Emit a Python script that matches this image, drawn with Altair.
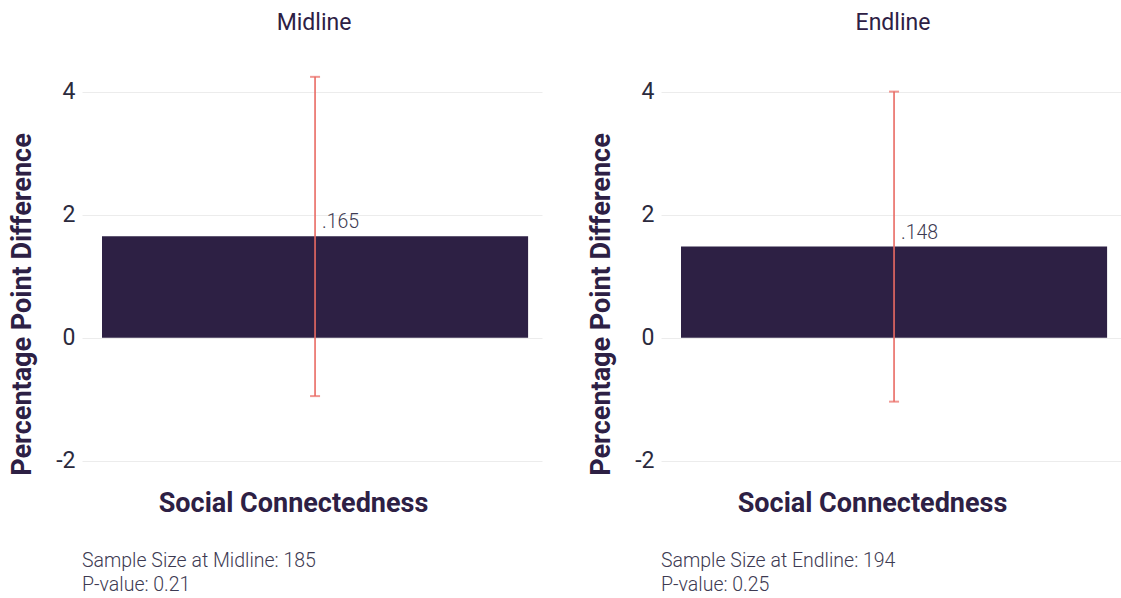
import altair as alt
import pandas as pd

# Survey rounds shown side by side
rounds = ["Midline", "Endline"]
outcome = "Social Connectedness"
# Point estimates (share) and their 95% confidence bounds in percentage points
estimates = [0.165, 0.148]
ci_low = [-0.95, -1.04]
ci_high = [4.24, 4.00]
sample_sizes = [185, 194]
p_values = ["0.21", "0.25"]

y_ticks = [-2, 0, 2, 4]

FONT = "Roboto"
INK = "#2d2044"
BAR = "#2d2044"
ERR = "#e96a63"
PLOT_W = 460
PLOT_H = 406


def panel(i):
    df = pd.DataFrame(
        {
            "outcome": [outcome],
            "estimate": [estimates[i]],
            "low": [ci_low[i]],
            "high": [ci_high[i]],
            "footer": [
                f"Sample Size at {rounds[i]}: {sample_sizes[i]}\nP-value: {p_values[i]}"
            ],
        }
    )
    base = alt.Chart(df).transform_calculate(
        pp="datum.estimate * 10",
        label="slice(format(datum.estimate, '.3f'), 1)",
    )

    x = alt.X(
        "outcome:N",
        title=outcome,
        scale=alt.Scale(paddingInner=0.07, paddingOuter=0.037, align=0.59),
        axis=alt.Axis(
            labels=False,
            ticks=False,
            domain=False,
            grid=False,
            titleFont=FONT,
            titleFontSize=27,
            titleFontWeight="bold",
            titleColor=INK,
            titlePadding=17,
            titleX=211,
        ),
    )
    y_scale = alt.Scale(domain=[-2.2, 4.4], nice=False, zero=False)
    y_axis = alt.Axis(
        values=y_ticks,
        labelExpr="toString(datum.value)",
        title="Percentage Point Difference",
        domain=False,
        ticks=False,
        grid=True,
        gridColor="#ececec",
        gridWidth=1,
        labelFont=FONT,
        labelFontSize=23,
        labelColor="#2b2a3d",
        labelPadding=7,
        titleFont=FONT,
        titleFontSize=27,
        titleFontWeight="bold",
        titleColor=INK,
        titlePadding=19,
        titleY=237,
    )

    bars = base.mark_bar(color=BAR).encode(
        x=x, y=alt.Y("pp:Q", scale=y_scale, axis=y_axis)
    )
    whisker = base.mark_rule(color=ERR, strokeWidth=1.6).encode(
        x="outcome:N", y="low:Q", y2="high:Q"
    )
    cap_low = base.mark_tick(color=ERR, size=10, thickness=2).encode(
        x="outcome:N", y="low:Q"
    )
    cap_high = base.mark_tick(color=ERR, size=10, thickness=2).encode(
        x="outcome:N", y="high:Q"
    )
    label = base.mark_text(
        align="left",
        baseline="alphabetic",
        dx=7,
        dy=-8,
        font=FONT,
        fontSize=19.5,
        fontWeight=300,
        color="#3d3a52",
    ).encode(x="outcome:N", y="pp:Q", text="label:N")
    footer = base.mark_text(
        align="left",
        baseline="alphabetic",
        lineBreak="\n",
        lineHeight=24,
        font=FONT,
        fontSize=19.5,
        fontWeight=300,
        color="#3d3a52",
    ).encode(x=alt.value(0), y=alt.value(PLOT_H + 94), text="footer:N")

    return alt.layer(bars, whisker, cap_low, cap_high, label, footer).properties(
        width=PLOT_W,
        height=PLOT_H,
        title=alt.Title(
            rounds[i],
            font=FONT,
            fontSize=23,
            fontWeight="normal",
            color=INK,
            anchor="middle",
            frame="group",
            offset=32,
            dx=2,
        ),
    )


chart = (
    alt.hconcat(panel(0), panel(1), spacing=45)
    .properties(padding={"left": 8, "top": 12, "right": 0, "bottom": 0})
    .configure_view(stroke=None)
)

chart.save("out.html", embed_options={"renderer": "svg", "actions": False})
